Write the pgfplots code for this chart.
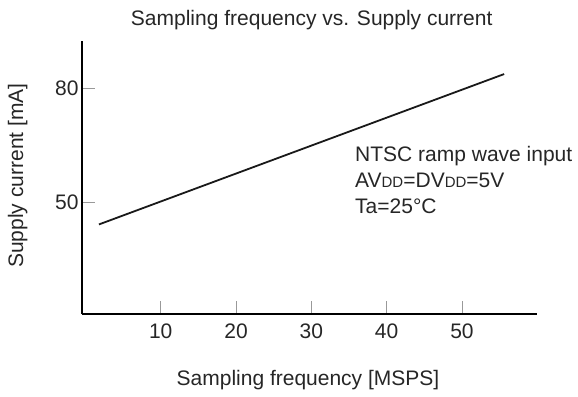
\documentclass[border=0pt]{standalone}
\usepackage{fontspec}
\setmainfont{Liberation Sans}
\usepackage{pgfplots}
\pgfplotsset{compat=1.18}
\newcommand{\bigf}{\fontsize{21bp}{26bp}\selectfont}
\newcommand{\sm}[1]{{\fontsize{15bp}{15bp}\selectfont #1}}
\begin{document}
\begin{tikzpicture}[x=1bp,y=1bp]
\useasboundingbox (0,0) rectangle (578,396);
\begin{axis}[
  at={(82bp,82bp)}, anchor=south west,
  scale only axis, width=455.3bp, height=273.3bp,
  xmin=-0.45, xmax=60, ymin=20.8, ymax=92.5,
  axis lines*=left,
  axis line style={black, line width=1.6bp},
  xtick={10,20,30,40,50}, ytick={50,80},
  tick align=inside,
  major tick length=13bp,
  tick style={gray!80, line width=0.9bp},
  /pgf/number format/assume math mode=true,
  every tick label/.append style={font=\bigf, text=black!85},
  xticklabel style={yshift=-6bp},
  clip=false,
]
\addplot[black!90, line width=1.8bp] coordinates {(1.8,44.3) (55.6,83.75)};
\end{axis}
\node[anchor=base, font=\bigf, text=black!85] at (311.7,371) {Sampling frequency vs. Supply current};
\node[anchor=base, font=\bigf, text=black!85] at (308,10.3) {Sampling frequency [MSPS]};
\node[anchor=base, rotate=90, font=\bigf, text=black!85] at (23,220.5) {Supply current [mA]};
\node[anchor=base west, font=\bigf, text=black!85, inner sep=0pt] at (355,235) {NTSC ramp wave input};
\node[anchor=base west, font=\bigf, text=black!85, inner sep=0pt] at (355,209) {AV\sm{DD}=DV\sm{DD}=5V};
\node[anchor=base west, font=\bigf, text=black!85, inner sep=0pt] at (355,183) {Ta=25°C};
\end{tikzpicture}
\end{document}
